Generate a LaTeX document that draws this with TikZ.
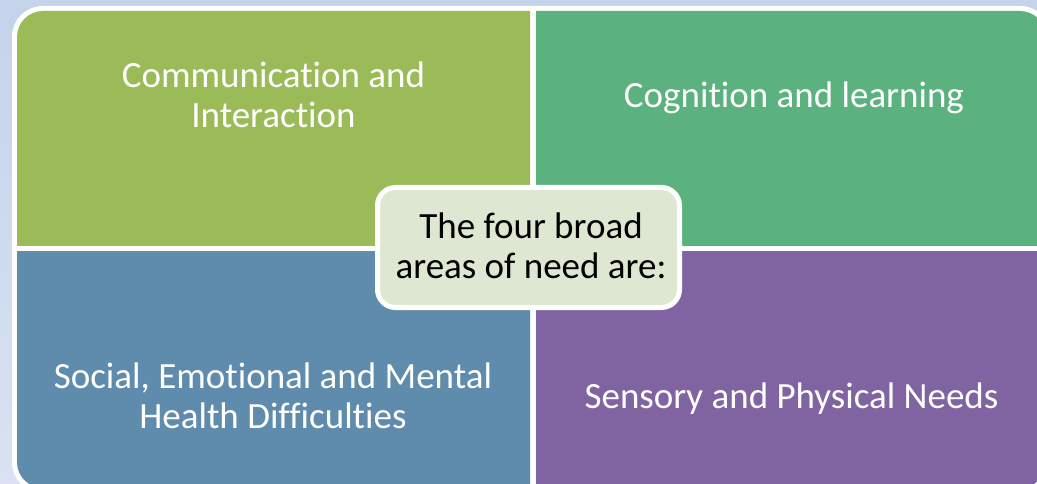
\documentclass[tikz,border=0pt]{standalone}
\usepackage{fontspec}
\setmainfont{Carlito}[Ligatures=NoCommon]
\definecolor{bgtop}{HTML}{C5D3EB}
\definecolor{bgbot}{HTML}{DAE2F3}
\definecolor{qgreen}{HTML}{9BBB59}
\definecolor{qteal}{HTML}{5CB27E}
\definecolor{qblue}{HTML}{5F8BAC}
\definecolor{qpurple}{HTML}{8064A2}
\definecolor{hubfill}{HTML}{DEE7D1}
\begin{document}
\begin{tikzpicture}[x=1pt,y=-1pt,
  every node/.style={inner sep=0pt},
  lbl/.style={font=\fontsize{37}{40}\selectfont, text=white, align=center, anchor=base},
  quad/.style={rounded corners=26pt}]
\useasboundingbox (0,0) rectangle (1037,484);
\shade[top color=bgtop, bottom color=bgbot] (0,0) rectangle (1037,484);
% white outer border
\fill[white, rounded corners=31pt] (12,6) rectangle (1051,493);
% quadrants
\begin{scope}
  \clip (17,11) rectangle (530,245);
  \fill[qgreen, quad] (17,11) rectangle (1046,488);
\end{scope}
\begin{scope}
  \clip (536,11) rectangle (1046,245);
  \fill[qteal, quad] (17,11) rectangle (1046,488);
\end{scope}
\begin{scope}
  \clip (17,251) rectangle (530,488);
  \fill[qblue, quad] (17,11) rectangle (1046,488);
\end{scope}
\begin{scope}
  \clip (536,251) rectangle (1046,488);
  \fill[qpurple, quad] (17,11) rectangle (1046,488);
\end{scope}
% labels (base anchor = last line baseline)
\node[lbl] (ci) at (273.5,128) {Communication and\\Interaction};
\node[lbl] (cl) at (794,108) {Cognition and learning};
\node[lbl] (semh) at (273,428) {Social, Emotional and Mental\\Health Difficulties};
\node[lbl] (spn) at (791.5,408) {Sensory and Physical Needs};
% hub
\node[draw=white, line width=5pt, fill=hubfill, rounded corners=18pt,
      minimum width=302pt, minimum height=120pt] (hub) at (528.5,247.5) {};
\node[lbl, text=black] (hubtext) at (531,278) {The four broad\\areas of need are:};
\end{tikzpicture}
\end{document}
